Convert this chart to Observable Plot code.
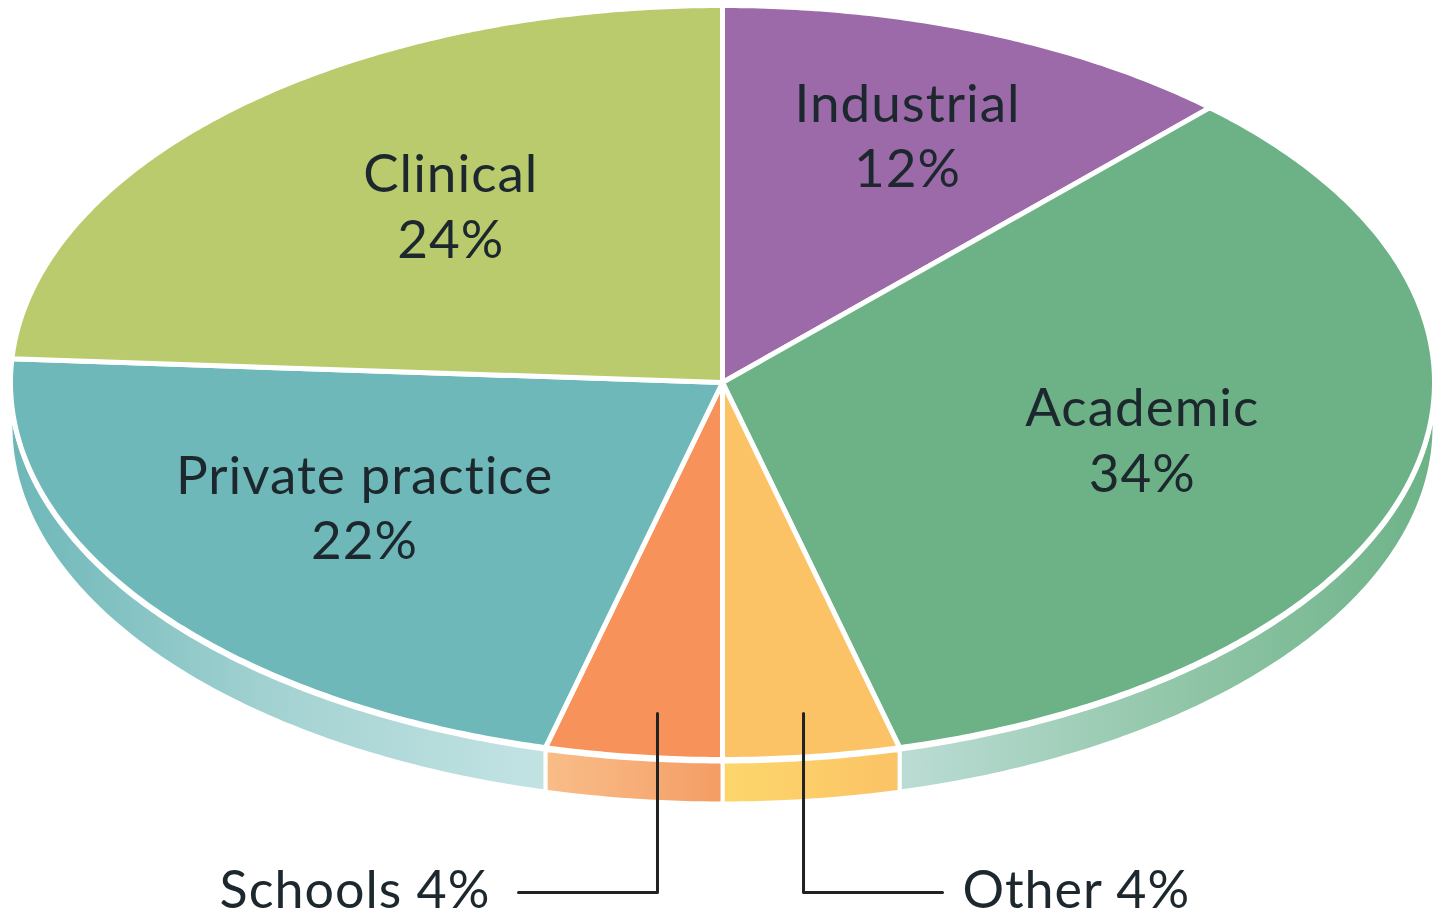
<!DOCTYPE html>
<html><head><meta charset="utf-8">
<script src="https://cdn.jsdelivr.net/npm/d3@7"></script>
<script src="https://cdn.jsdelivr.net/npm/@observablehq/plot@0.6"></script>
<style>html,body{margin:0;padding:0;background:#fff;overflow:hidden}</style>
</head><body><div id="chart"></div>
<script>
// ---- data (clockwise from 12 o'clock) ----
const categories = ["Industrial", "Academic", "Other", "Schools", "Private practice", "Clinical"];
const shares = [12, 34, 4, 4, 22, 24];
const labelText = ["Industrial\n12%", "Academic\n34%", "Other 4%", "Schools 4%", "Private practice\n22%", "Clinical\n24%"];
const faceColors = ["#9c6aa8", "#6db287", "#fcc266", "#f7925a", "#6fb8b9", "#b9cb6d"];
// side (extrusion) gradient stops, left -> right
const sideStops = [
  null,
  ["#bbdcd5", "#93c7aa", "#6db287"],
  ["#fcd66c", "#fccd69", "#fbc366"],
  ["#f9bd88", "#f7ae78", "#f49c64"],
  ["#6db7b8", "#a4d2d2", "#c3e3e3"],
  null
];

// ---- layout ----
const W = 1437, H = 922;
const cx = 722, cy = 382, rx = 712, ry = 377;
const gapU = 2 / ry, depthU = 44 / ry;
// in-slice label placement (radius fraction, angle nudge in degrees)
const labelR = [0.70, 0.61, null, null, 0.605, 0.60];
const labelNudge = [0.2, 0.5, 0, 0, 2.2, 3.7];
const labelLift = 4; // px
// callouts for thin slices: elbow x, start y, line y, line end x, text x (unit coords)
const callouts = {
  "Schools": {x: -0.0913, y0: -0.878, y1: -1.353, xe: -0.2865, xt: -0.326, anchor: "end"},
  "Other":   {x: 0.1138, y0: -0.878, y1: -1.353, xe: 0.309, xt: 0.337, anchor: "start"}
};

const pie = d3.pie().sort(null).value(d => d.share)(categories.map((c, i) => ({cat: c, share: shares[i], i})));
const pt = (a, r = 1, dy = 0) => ({x: r * Math.sin(a), y: r * Math.cos(a) - dy});
const arcPts = (a0, a1, dy = 0) => {
  const n = Math.max(2, Math.ceil((a1 - a0) / (Math.PI / 360)));
  return d3.range(n + 1).map(k => pt(a0 + (a1 - a0) * k / n, 1, dy));
};

// top faces
const faces = [];
pie.forEach(p => {
  const pts = [{x: 0, y: 0}, ...arcPts(p.startAngle, p.endAngle), {x: 0, y: 0}];
  pts.forEach(q => faces.push({...q, cat: p.data.cat, fill: faceColors[p.data.i]}));
});

// sides (front half only)
const sides = [];
pie.forEach(p => {
  const lo = Math.max(p.startAngle, Math.PI / 2), hi = Math.min(p.endAngle, 3 * Math.PI / 2);
  if (hi <= lo || !sideStops[p.data.i]) return;
  const top = arcPts(lo, hi, gapU), bot = arcPts(lo, hi, depthU).reverse();
  const pts = [...top, ...bot, top[0]];
  const id = "side" + p.data.i;
  pts.forEach(q => sides.push({...q, cat: p.data.cat, fill: `url(#${id})`}));
});

// labels inside slices
const inLabels = pie.filter(p => labelR[p.data.i] != null).map(p => {
  const a = (p.startAngle + p.endAngle) / 2 + labelNudge[p.data.i] * Math.PI / 180;
  const q = pt(a, labelR[p.data.i]);
  return {x: q.x, y: q.y + labelLift / ry, text: labelText[p.data.i]};
});

// callouts
const leaders = [];
const outLabels = [];
pie.forEach(p => {
  const c = callouts[p.data.cat];
  if (!c) return;
  [{x: c.x, y: c.y0}, {x: c.x, y: c.y1}, {x: c.xe, y: c.y1}].forEach(q => leaders.push({...q, cat: p.data.cat}));
  outLabels.push({x: c.xt, y: c.y1 + 1 / ry, text: labelText[p.data.i], anchor: c.anchor});
});

const defsMark = () => {
  const ns = "http://www.w3.org/2000/svg";
  const defs = document.createElementNS(ns, "defs");
  sideStops.forEach((stops, i) => {
    if (!stops) return;
    const g = document.createElementNS(ns, "linearGradient");
    g.setAttribute("id", "side" + i);
    g.setAttribute("x1", "0"); g.setAttribute("x2", "1");
    g.setAttribute("y1", "0"); g.setAttribute("y2", "0");
    stops.forEach((c, k) => {
      const s = document.createElementNS(ns, "stop");
      s.setAttribute("offset", k / (stops.length - 1));
      s.setAttribute("stop-color", c);
      g.appendChild(s);
    });
    defs.appendChild(g);
  });
  return defs;
};

const font = "Lato, 'Open Sans', sans-serif";
const txt = {fontFamily: font, fill: "#1d282e", fontWeight: 400};
const chart = Plot.plot({
  width: W, height: H, margin: 0,
  x: {domain: [-1, 1], range: [cx - rx, cx + rx], axis: null},
  y: {domain: [-1, 1], range: [cy + ry, cy - ry], axis: null},
  color: {type: "identity"},
  style: {background: "#fff", letterSpacing: "1px"},
  marks: [
    defsMark,
    Plot.line(sides, {x: "x", y: "y", z: "cat", fill: "fill", stroke: "white", strokeWidth: 4, strokeLinejoin: "round", curve: "linear"}),
    Plot.line(faces, {x: "x", y: "y", z: "cat", fill: "fill", stroke: "white", strokeWidth: 5, strokeLinejoin: "round", curve: "linear"}),
    Plot.line(leaders, {x: "x", y: "y", z: "cat", stroke: "#222", strokeWidth: 3}),
    Plot.text(inLabels, {x: "x", y: "y", text: "text", fontSize: 53, lineHeight: 1.24, ...txt}),
    Plot.text(outLabels, {x: "x", y: "y", text: "text", textAnchor: "end", fontSize: 52, ...txt, filter: d => d.anchor === "end"}),
    Plot.text(outLabels, {x: "x", y: "y", text: "text", textAnchor: "start", fontSize: 52, ...txt, filter: d => d.anchor === "start"})
  ]
});
document.getElementById("chart").appendChild(chart);
</script>
</body></html>
